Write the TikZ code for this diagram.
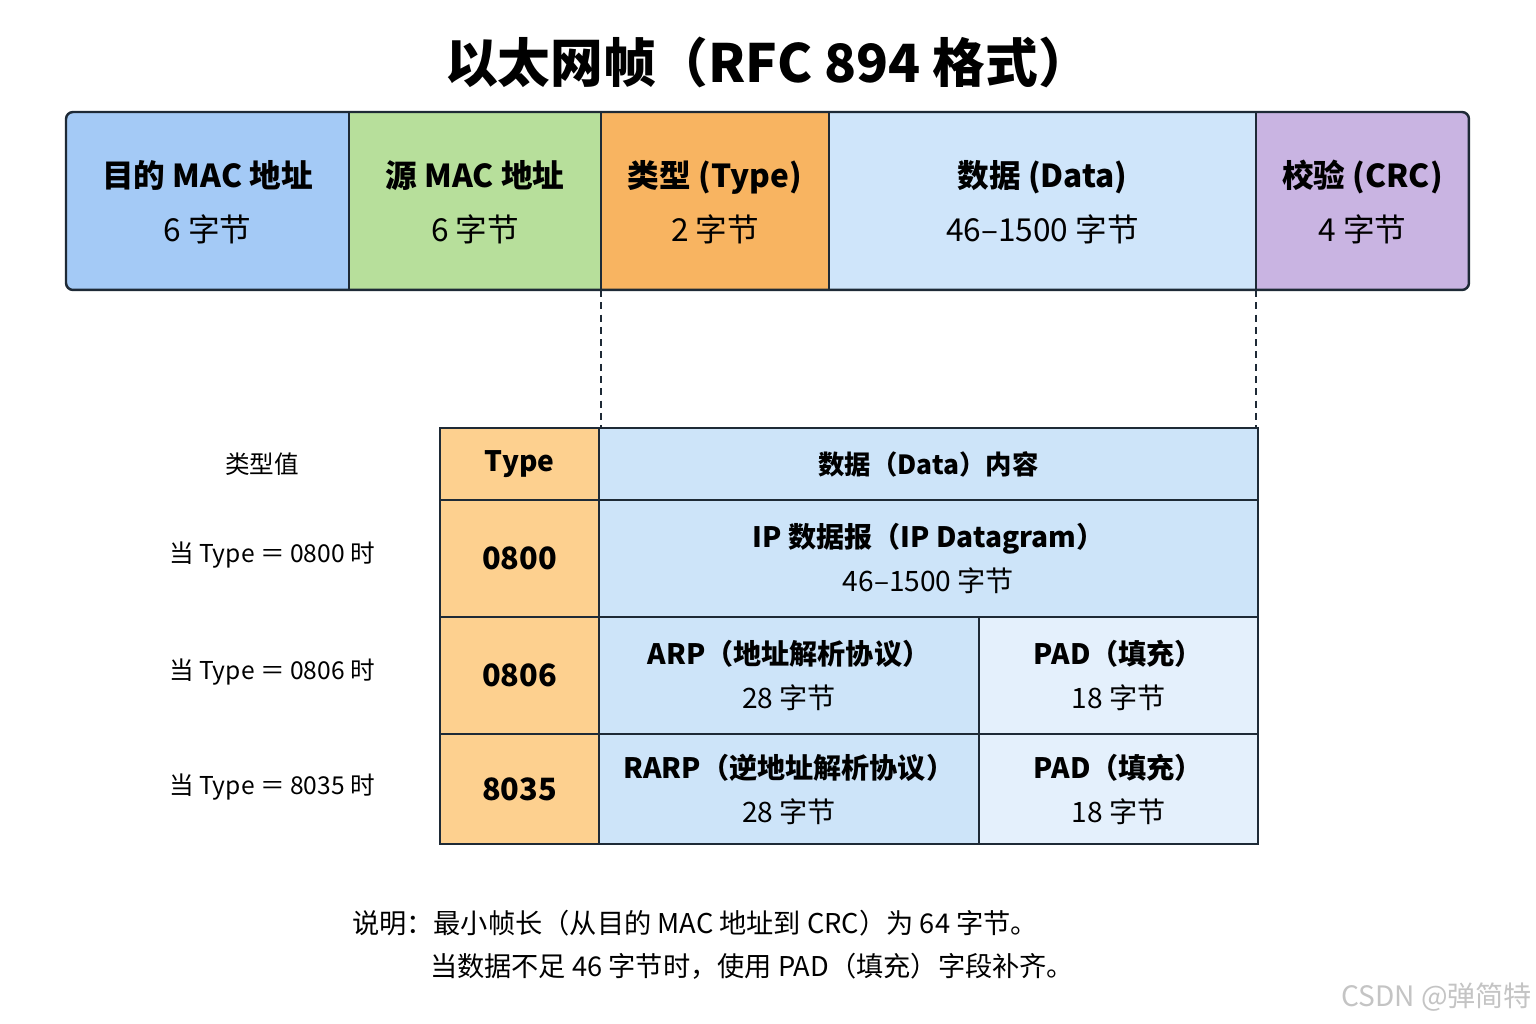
\documentclass[tikz,border=0pt]{standalone}
\usepackage{fontspec}
\setmainfont{Noto Sans CJK SC}
\definecolor{linec}{HTML}{1E2A36}
\definecolor{cBlue}{HTML}{A4CAF6}
\definecolor{cGreen}{HTML}{B7DF9B}
\definecolor{cOrange}{HTML}{F8B461}
\definecolor{cLight}{HTML}{CFE5FA}
\definecolor{cPurple}{HTML}{C9B4E2}
\definecolor{tType}{HTML}{FDD08F}
\definecolor{tData}{HTML}{CDE4F9}
\definecolor{tPad}{HTML}{E4F0FC}
\definecolor{wmark}{HTML}{C4C4C4}
\begin{document}
\begin{tikzpicture}[x=0.02cm,y=-0.02cm,
  every node/.style={inner sep=0pt, outer sep=0pt},
  topcell/.style={draw=linec, line width=1.1pt, minimum height=3.56cm, anchor=north west, align=center,
    font=\fontsize{18}{31}\selectfont, text depth=0pt},
  tcell/.style={draw=linec, line width=1.1pt, anchor=north west, align=center,
    font=\fontsize{16}{25}\selectfont},
  typecell/.style={tcell, fill=tType, minimum width=3.18cm},
  lbl/.style={font=\fontsize{14}{17}\selectfont},
  notes/.style={anchor=west, font=\fontsize{15.5}{19}\selectfont}]
\useasboundingbox (0,0) rectangle (1536,1024);
\fill[white] (0,0) rectangle (1536,1024);

% title
\node[font=\fontsize{30}{36}\selectfont\bfseries] (title) at (768,62) {以太网帧（RFC 894 格式）};

% top frame
\begin{scope}
\clip[rounded corners=4pt] (66,112) rectangle (1469,290);
\node[topcell, fill=cBlue, minimum width=5.66cm] (A) at (66,112) {\textbf{目的 MAC 地址}\\6 字节};
\node[topcell, fill=cGreen, minimum width=5.04cm] (B) at (349,112) {\textbf{源 MAC 地址}\\6 字节};
\node[topcell, fill=cOrange, minimum width=4.56cm] (C) at (601,112) {\textbf{类型 (Type)}\\2 字节};
\node[topcell, fill=cLight, minimum width=8.54cm] (D) at (829,112) {\textbf{数据 (Data)}\\46–1500 字节};
\node[topcell, fill=cPurple, minimum width=4.26cm] (E) at (1256,112) {\textbf{校验 (CRC)}\\4 字节};
\end{scope}
\draw[linec, line width=1.4pt, rounded corners=4pt] (A.north west) rectangle (E.south east);

% table
\node[typecell, minimum height=1.44cm] (T0) at (440,428) {\textbf{Type}};
\node[tcell, fill=tData, minimum width=13.18cm, minimum height=1.44cm, font=\fontsize{15}{18}\selectfont] (D0) at (599,428) {\textbf{数据（Data）内容}};
\node[typecell, minimum height=2.34cm, font=\fontsize{17.5}{22}\selectfont] (T1) at (440,500) {\textbf{0800}};
\node[tcell, fill=tData, minimum width=13.18cm, minimum height=2.34cm] (D1) at (599,500) {\textbf{IP 数据报（IP Datagram）}\\46–1500 字节};
\node[typecell, minimum height=2.34cm, font=\fontsize{17.5}{22}\selectfont] (T2) at (440,617) {\textbf{0806}};
\node[tcell, fill=tData, minimum width=7.6cm, minimum height=2.34cm] (A2) at (599,617) {\textbf{ARP（地址解析协议）}\\28 字节};
\node[tcell, fill=tPad, minimum width=5.58cm, minimum height=2.34cm] (P2) at (979,617) {\textbf{PAD（填充）}\\18 字节};
\node[typecell, minimum height=2.2cm, font=\fontsize{17.5}{22}\selectfont] (T3) at (440,734) {\textbf{8035}};
\node[tcell, fill=tData, minimum width=7.6cm, minimum height=2.2cm] (A3) at (599,734) {\textbf{RARP（逆地址解析协议）}\\28 字节};
\node[tcell, fill=tPad, minimum width=5.58cm, minimum height=2.2cm] (P3) at (979,734) {\textbf{PAD（填充）}\\18 字节};

% dashed guides
\draw[linec, line width=0.8pt, dash pattern=on 4pt off 3pt] (C.south west) -- (C.south west |- D0.north);
\draw[linec, line width=0.8pt, dash pattern=on 4pt off 3pt] (E.south west) -- (E.south west |- D0.north);

% left labels
\node[lbl] (L0) at (262,464) {类型值};
\node[lbl] (L1) at (272,555) {当 Type ＝ 0800 时};
\node[lbl] (L2) at (272,672) {当 Type ＝ 0806 时};
\node[lbl] (L3) at (272,787) {当 Type ＝ 8035 时};

% notes
\node[notes] (N1) at (352,923) {说明：最小帧长（从目的 MAC 地址到 CRC）为 64 字节。};
\node[notes] (N2) at (430,966) {当数据不足 46 字节时，使用 PAD（填充）字段补齐。};

% watermark
\node[anchor=east, text=wmark, font=\fontsize{16}{20}\selectfont] (W) at (1532,997) {CSDN @弹简特};
\end{tikzpicture}
\end{document}
